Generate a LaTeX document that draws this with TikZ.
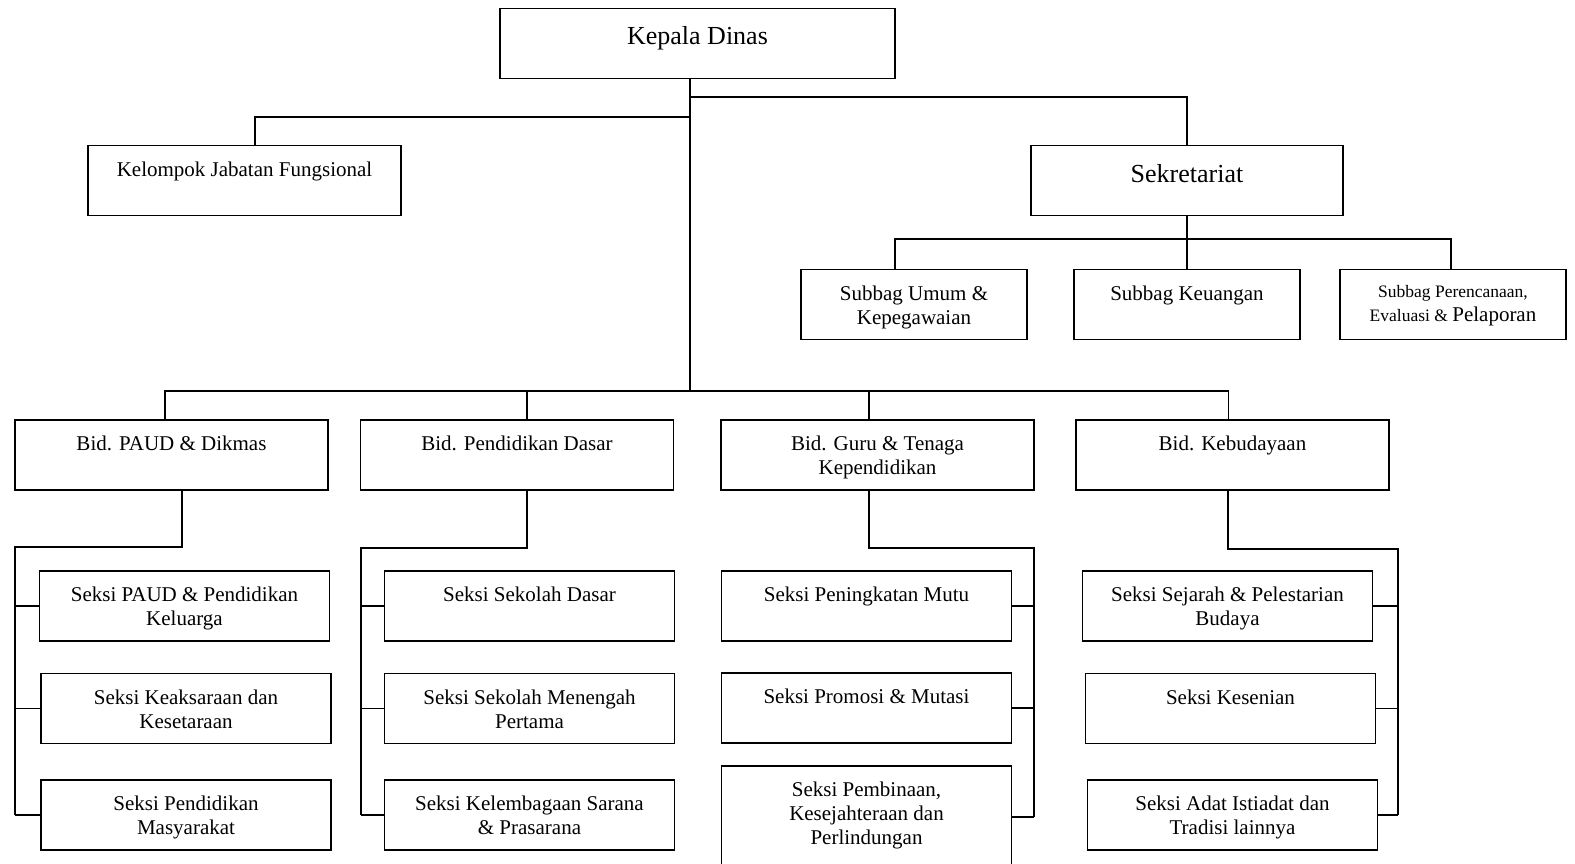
\documentclass[tikz,border=0pt]{standalone}
\usepackage{fontspec}
\setmainfont{Liberation Serif}
\newcommand\txt{\fontsize{21}{24}\selectfont}
\newcommand\bigtxt{\fontsize{26}{30}\selectfont}
\newcommand\smalltxt{\fontsize{17.5}{24}\selectfont}

\begin{document}
\begin{tikzpicture}[x=1pt,y=-1pt,line width=1.6pt,
    box/.style={draw, minimum height=70pt, inner sep=0pt},
    seksi/.style={box, minimum width=290pt},
    bidang/.style={box, minimum width=313pt},
    subbag/.style={box, minimum width=226pt},
    lbl/.style={anchor=north, yshift=-16pt, align=center, font=\txt, inner sep=0pt}]

        \useasboundingbox (0,0) rectangle (1575,864);

        \node[box, minimum width=395pt, label={[lbl, yshift=-2pt, font=\bigtxt]north:{Kepala Dinas}}] (kadis) at (697.5,43.5) {};
        \node[bidang, label={[lbl]north:{Kelompok Jabatan Fungsional}}] (kjf) at (244.5,180.5) {};
        \node[box, minimum width=312pt, label={[lbl, yshift=-3pt, font=\bigtxt]north:{Sekretariat}}] (sek) at (1187,180.5) {};

        \node[subbag, label={[lbl]north:{Subbag Umum \&\\Kepegawaian}}] (subA) at (914,304.5) {};
        \node[subbag, label={[lbl]north:{Subbag Keuangan}}] (subB) at (1187,304.5) {};
        \node[subbag, label={[lbl, font=\smalltxt]north:{Subbag Perencanaan,\\Evaluasi \& {\txt Pelaporan}}}] (subC) at (1453,304.5) {};

        \node[bidang, label={[lbl]north:{Bid. PAUD \& Dikmas}}] (bidA) at (171.5,455) {};
        \node[bidang, label={[lbl]north:{Bid. Pendidikan Dasar}}] (bidB) at (517,455) {};
        \node[bidang, label={[lbl]north:{Bid. Guru \& Tenaga\\Kependidikan}}] (bidC) at (877.5,455) {};
        \node[bidang, label={[lbl]north:{Bid. Kebudayaan}}] (bidD) at (1232.5,455) {};

        \node[seksi, label={[lbl]north:{Seksi PAUD \& Pendidikan\\Keluarga}}] (sA1) at (184.5,606) {};
        \node[seksi, label={[lbl]north:{Seksi Keaksaraan dan\\Kesetaraan}}] (sA2) at (186,708.5) {};
        \node[seksi, label={[lbl]north:{Seksi Pendidikan\\Masyarakat}}] (sA3) at (186,815) {};

        \node[seksi, label={[lbl]north:{Seksi Sekolah Dasar}}] (sB1) at (529.5,606) {};
        \node[seksi, label={[lbl]north:{Seksi Sekolah Menengah\\Pertama}}] (sB2) at (529.5,708.5) {};
        \node[seksi, label={[lbl]north:{Seksi Kelembagaan Sarana\\\& Prasarana}}] (sB3) at (529.5,815) {};

        \node[seksi, label={[lbl]north:{Seksi Peningkatan Mutu}}] (sC1) at (866.5,606) {};
        \node[seksi, label={[lbl]north:{Seksi Promosi \& Mutasi}}] (sC2) at (866.5,708) {};
        \node[seksi, minimum height=102pt, label={[lbl]north:{Seksi Pembinaan,\\Kesejahteraan dan\\Perlindungan}}] (sC3) at (866.5,817) {};

        \node[seksi, label={[lbl]north:{Seksi Sejarah \& Pelestarian\\Budaya}}] (sD1) at (1227.5,606) {};
        \node[seksi, label={[lbl]north:{Seksi Kesenian}}] (sD2) at (1230.5,708.5) {};
        \node[seksi, label={[lbl]north:{Seksi Adat Istiadat dan\\Tradisi lainnya}}] (sD3) at (1232.5,815) {};

        \path (bidA.north) ++(0,-28) coordinate (bar);
        \draw ([xshift=-7.5pt]kadis.south) -- ([xshift=-7.5pt]kadis.south |- bar);
        \draw ([xshift=-7.5pt]kadis.south) ++(0,18) -| (sek.north);
        \draw ([xshift=-7.5pt]kadis.south) ++(0,38) -| ([xshift=10.5pt]kjf.north);

        \draw (sek.south) -- ++(0,25);
        \draw ([xshift=-19pt]subA.north) -- ++(0,-30) -| ([xshift=-2pt]subC.north);
        \draw (subB.north) -- ++(0,-30);

        \draw ([xshift=-6.5pt]bidA.north) -- ++(0,-28) -| ([xshift=-4pt]bidD.north);
        \draw ([xshift=10pt]bidB.north) -- ++(0,-28);
        \draw ([xshift=-8.5pt]bidC.north) -- ++(0,-28);

        \coordinate (railA) at (15,815);
        \coordinate (railB) at (361,815);
        \coordinate (railC) at (1034,817);
        \coordinate (railD) at (1398,815);

        \draw ([xshift=10.5pt]bidA.south) -- ++(0,56) -| (railA);
        \draw ([xshift=10pt]bidB.south) -- ++(0,57) -| (railB);
        \draw ([xshift=-8.5pt]bidC.south) -- ++(0,57) -| (railC);
        \draw ([xshift=-4.5pt]bidD.south) -- ++(0,58) -| (railD);

        \foreach \s in {sA1,sA2,sA3} \draw (railA |- \s.west) -- (\s.west);
        \foreach \s in {sB1,sB2,sB3} \draw (railB |- \s.west) -- (\s.west);
        \foreach \s in {sC1,sC2,sC3} \draw (railC |- \s.east) -- (\s.east);
        \foreach \s in {sD1,sD2,sD3} \draw (railD |- \s.east) -- (\s.east);

      \end{tikzpicture}
\end{document}
